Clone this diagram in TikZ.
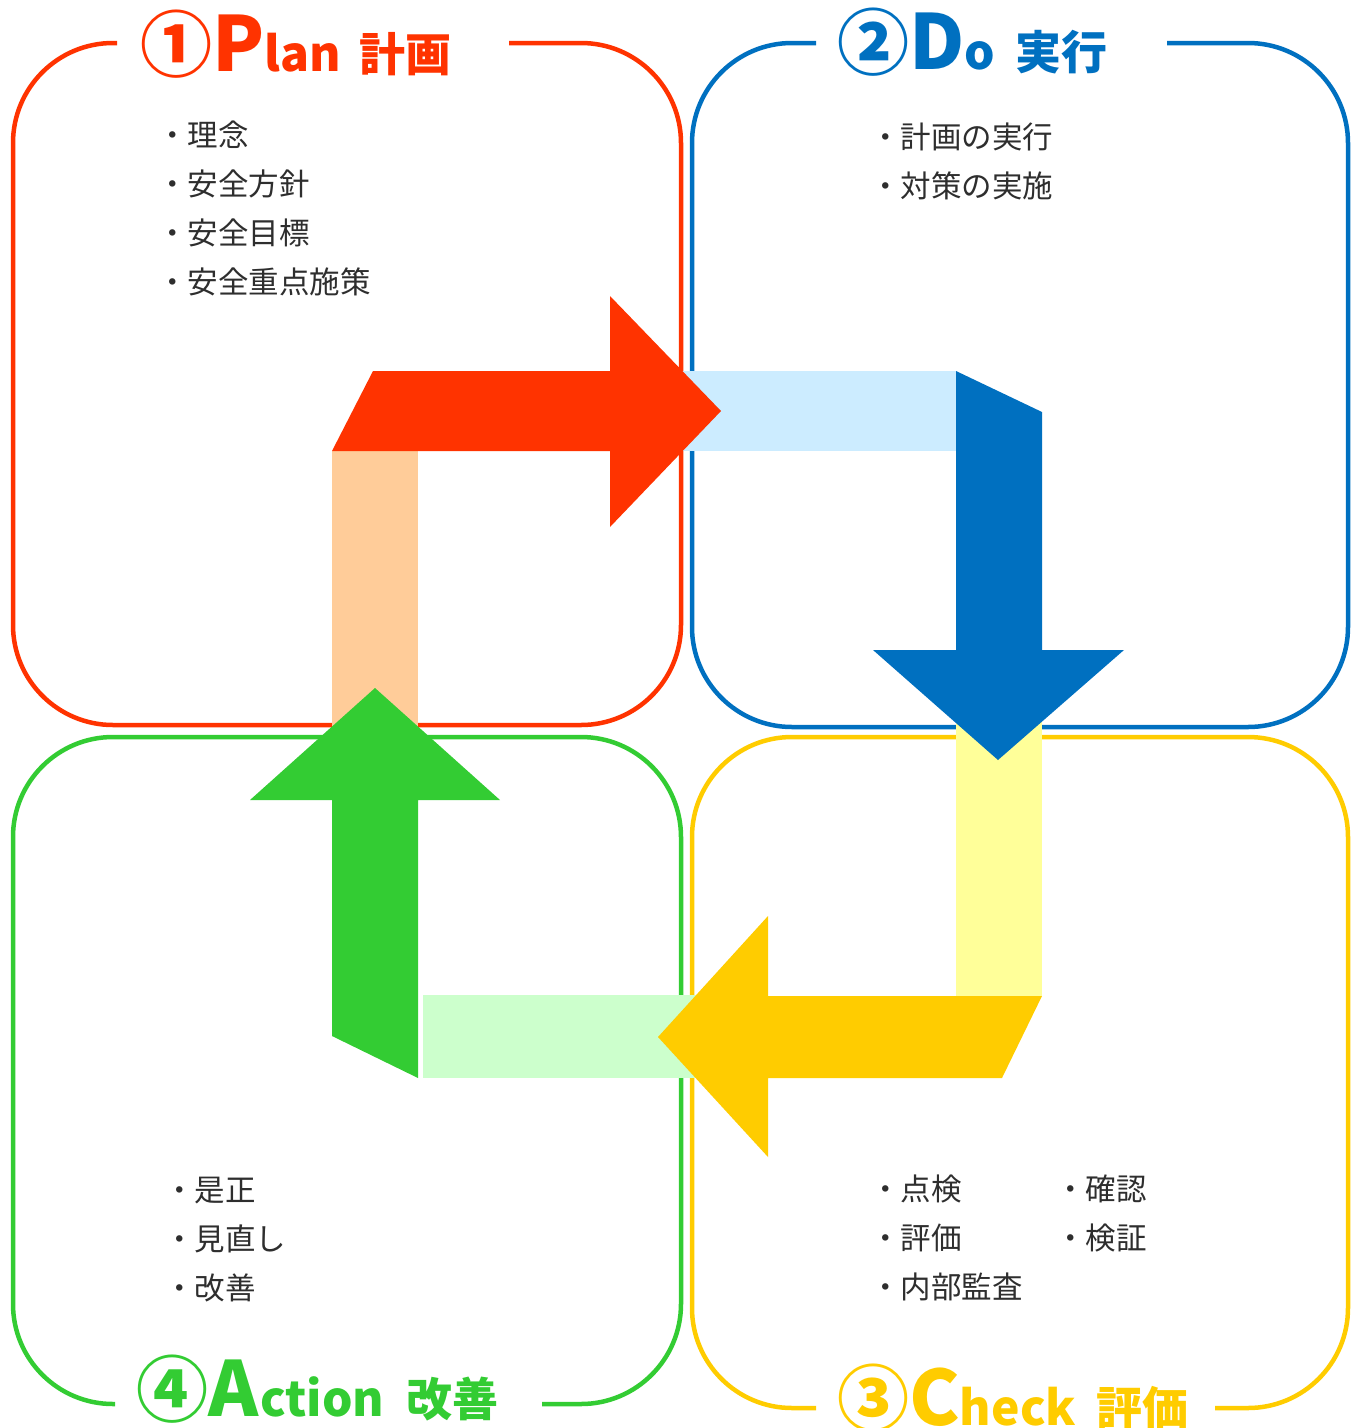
\documentclass[tikz,border=0pt]{standalone}
\usepackage{fontspec}
\newfontfamily\jpfont{Noto Sans CJK JP}
\usetikzlibrary{positioning}

\definecolor{planred}{HTML}{FF3300}
\definecolor{doblue}{HTML}{0070C0}
\definecolor{checkyellow}{HTML}{FFCC00}
\definecolor{actgreen}{HTML}{33CC33}
\definecolor{planband}{HTML}{FFCC99}
\definecolor{doband}{HTML}{CCECFF}
\definecolor{checkband}{HTML}{FFFF99}
\definecolor{actband}{HTML}{CCFFCC}
\definecolor{itemgray}{HTML}{2E2E2E}

\newcommand{\numsize}{\fontsize{72}{72}\selectfont}
\newcommand{\capsize}{\fontsize{76}{76}\selectfont}
\newcommand{\lowsize}{\fontsize{48}{48}\selectfont}
\newcommand{\kanjisize}{\fontsize{46}{46}\selectfont}

\tikzset{
	stage/.style={line width=4.5pt, rounded corners=100pt},
	title/.style={anchor=base west, inner sep=0pt, font=\jpfont\bfseries\numsize},
	item/.style={anchor=base west, inner sep=0pt, text=itemgray, font=\jpfont\fontsize{30.5}{30.5}\selectfont},
}

\begin{document}
\begin{tikzpicture}[x=1pt, y=-1pt]
	\useasboundingbox (0,0) rectangle (1356,1428);
	
	% the four frames, left open where the titles sit
	\draw[stage, planred] (509,43) -- (681,43) -- (681,725) -- (13,725) -- (13,43) -- (117,43);
	\draw[stage, doblue] (1167,43) -- (1348,43) -- (1348,727) -- (692,727) -- (692,43) -- (816,43);
	\draw[stage, checkyellow] (1215,1408) -- (1348,1408) -- (1348,737) -- (692,737) -- (692,1408) -- (816,1408);
	\draw[stage, actgreen] (542,1404) -- (681,1404) -- (681,737) -- (13,737) -- (13,1404) -- (115,1404);
	
	% pale tails
	\fill[planband] (332,451) rectangle (418,740);
	\fill[doband] (679,371) rectangle (956,451);
	\fill[checkband] (956,722) rectangle (1042,996);
	\fill[actband] (423,995) rectangle (697,1078);
	
	% arrows
	\fill[planred] (332,451) -- (373,371) -- (610,371) -- (610,296) -- (721,411) -- (610,527) -- (610,451) -- cycle;
	\fill[doblue] (956,371) -- (1042,412) -- (1042,650) -- (1124,650) -- (998,760) -- (873,650) -- (956,650) -- cycle;
	\fill[checkyellow] (1042,996) -- (1002,1078) -- (768,1078) -- (768,1157) -- (658,1037) -- (768,916) -- (768,996) -- cycle;
	\fill[actgreen] (418,1078) -- (418,800) -- (500,800) -- (375,688) -- (250,800) -- (332,800) -- (332,1036) -- cycle;
	
	% titles
	\node[title, text=planred] (plantitle) at (140,71) {①\capsize P\lowsize lan\hspace{18pt}\kanjisize 計画};
	\node[title, text=doblue] (dotitle) at (837,69) {②\capsize D\lowsize o\hspace{20pt}\kanjisize 実行};
	\node[title, text=checkyellow] (checktitle) at (837,1425) {③\capsize C\lowsize heck\hspace{20pt}\kanjisize 評価};
	\node[title, text=actgreen] (acttitle) at (136,1416) {④\capsize A\hspace{2pt}\lowsize ction\hspace{22pt}\kanjisize 改善};
	
	% item lists
	\foreach \txt [count=\i] in {理念,安全方針,安全目標,安全重点施策}
		\node[item] (plan\i) at (157,{146+49.3*(\i-1)}) {・\txt};
	\foreach \txt [count=\i] in {計画の実行,対策の実施}
		\node[item] (do\i) at (870,{148+49.3*(\i-1)}) {・\txt};
	\foreach \txt [count=\i] in {点検,評価,内部監査}
		\node[item] (check\i) at (870,{1200+49.3*(\i-1)}) {・\txt};
	\foreach \txt [count=\i] in {確認,検証}
		\node[item] (checkb\i) at (1055,{1200+49.3*(\i-1)}) {・\txt};
	\foreach \txt [count=\i] in {是正,見直し,改善}
		\node[item] (act\i) at (164,{1201+49.3*(\i-1)}) {・\txt};
\end{tikzpicture}
\end{document}
